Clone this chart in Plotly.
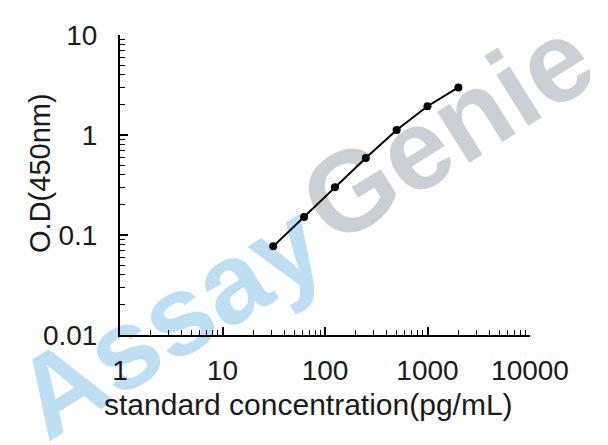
import plotly.graph_objects as go

# Data
concentration = [31.25, 62.5, 125, 250, 500, 1000, 2000]
od_450 = [0.077, 0.151, 0.30, 0.59, 1.12, 1.94, 2.99]

x_tickvals = [1, 10, 100, 1000, 10000]
x_ticktext = ["1", "10", "100", "1000", "10000"]
y_tickvals = [0.01, 0.1, 1, 10]
y_ticktext = ["0.01", "0.1", "1", "10"]

x_title = "standard concentration(pg/mL)"
y_title = "O.D(450nm)"
wm_part1 = "Assay"
wm_part2 = "Genie"

# Page geometry: the page body has an 8px margin, so the figure sits at (8, 8)
OFF = 8
WIN_W, WIN_H = 608, 445
W, H = WIN_W - OFF, WIN_H - OFF
# plot area in window pixels: x 120..530, y 24..335
PL, PR, PT, PB = 120, 530, 24, 335
L, T = PL - OFF, PT - OFF
R, B = WIN_W - PR, WIN_H - PB
pw, ph = PR - PL, PB - PT


def px_to_paper(px, py):
    return (px - PL) / pw, (PB - py) / ph


font_family = "Arial, Liberation Sans, sans-serif"
text_color = "#1a1a1a"

fig = go.Figure()
fig.add_trace(go.Scatter(
    x=concentration, y=od_450, mode="lines+markers",
    line=dict(color="black", width=2),
    marker=dict(color="black", size=8, symbol="circle"),
    showlegend=False,
))

axis_common = dict(
    type="log",
    showline=True, linecolor="black", linewidth=2,
    ticks="inside", ticklen=8, tickwidth=1.5, tickcolor="black",
    showgrid=False, zeroline=False, mirror=False,
    tickfont=dict(family=font_family, size=28, color=text_color),
    minor=dict(ticks="inside", ticklen=5, tickwidth=1.2, tickcolor="black",
               dtick="D1", showgrid=False),
)

fig.update_xaxes(range=[0, 4], tickmode="array", tickvals=x_tickvals,
                 ticktext=x_ticktext, ticklabelstandoff=9, **axis_common)
fig.update_yaxes(range=[-2, 1], tickmode="array", tickvals=y_tickvals,
                 ticktext=y_ticktext, ticklabelstandoff=15, **axis_common)

# Axis titles
ax, ay = px_to_paper(308, 407)
fig.add_annotation(text=x_title, xref="paper", yref="paper", x=ax, y=ay,
                   showarrow=False, xanchor="center", yanchor="middle",
                   font=dict(family=font_family, size=30, color=text_color))
bx, by = px_to_paper(40, 167)
fig.add_annotation(text=y_title, xref="paper", yref="paper", x=bx, y=by,
                   showarrow=False, textangle=-90, xanchor="center", yanchor="middle",
                   font=dict(family=font_family, size=29, color=text_color))

# Watermark drawn below traces via shape labels
for word, (cx, cy), col in [(wm_part1, (163, 310), "#bcdff3"),
                            (wm_part2, (441, 113), "#c9d0d6")]:
    x0, y0 = px_to_paper(cx - 10, cy + 10)
    x1, y1 = px_to_paper(cx + 10, cy - 10)
    fig.add_shape(type="rect", xref="paper", yref="paper",
                  x0=x0, y0=y0, x1=x1, y1=y1, layer="below",
                  line=dict(width=0), fillcolor="rgba(0,0,0,0)",
                  label=dict(text=word, textangle=-32, textposition="middle center",
                             font=dict(family=font_family, size=114, color=col,
                                       weight="bold")))

fig.update_layout(
    width=W, height=H,
    margin=dict(l=L, r=R, t=T, b=B),
    paper_bgcolor="white", plot_bgcolor="rgba(0,0,0,0)",
    showlegend=False,
)

fig.write_html("out.html")
